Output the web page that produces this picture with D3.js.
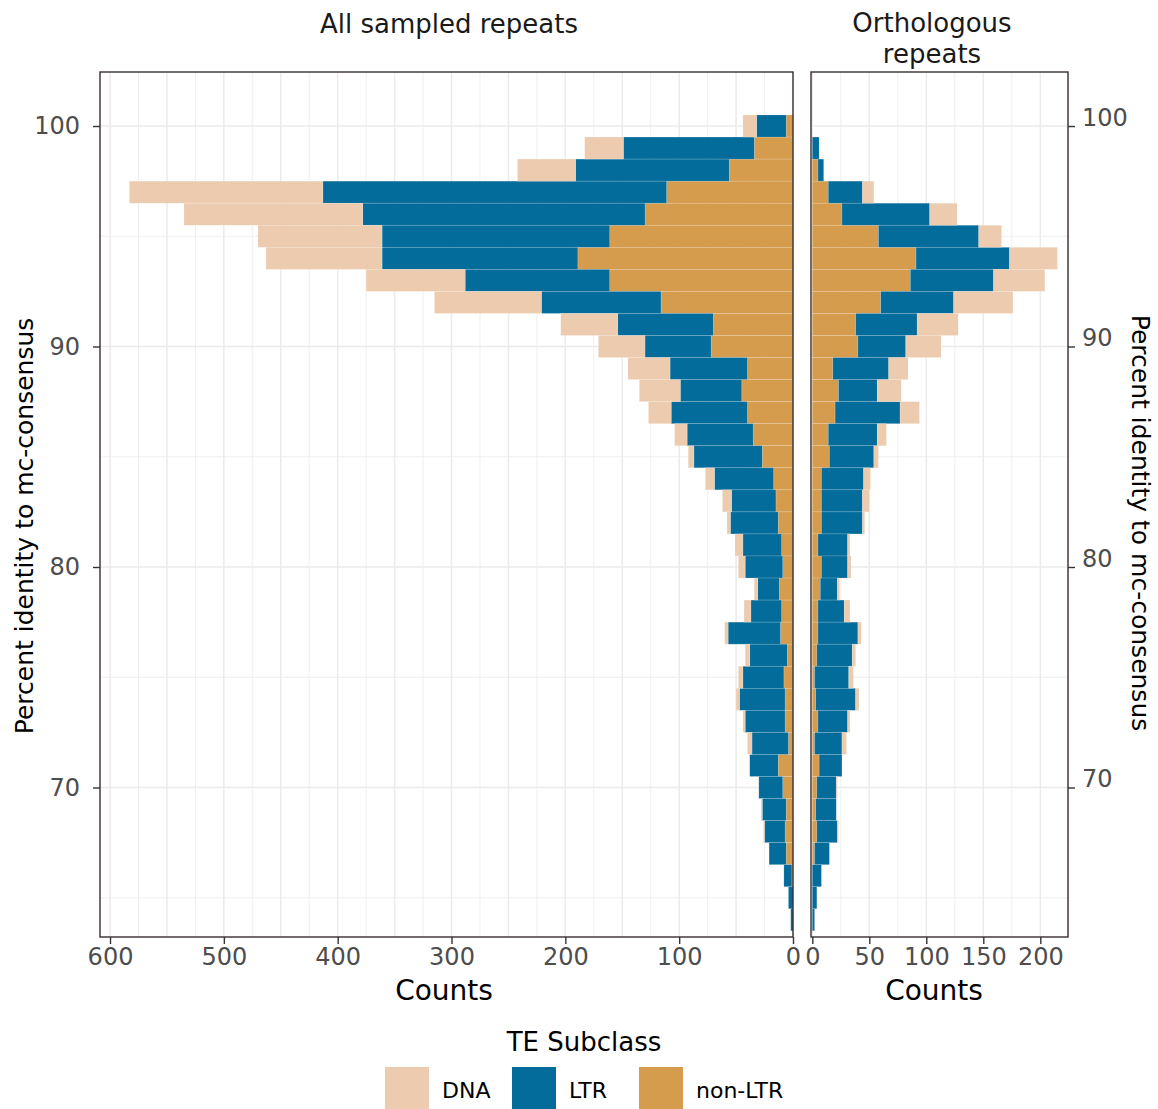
<!DOCTYPE html>
<html>
<head>
<meta charset="utf-8">
<script src="https://cdn.jsdelivr.net/npm/d3@7"></script>
<style>
  html, body { margin: 0; padding: 0; background: #ffffff; }
  svg { display: block; font-family: "DejaVu Sans", sans-serif; }
</style>
</head>
<body>
<svg id="chart" width="1158" height="1109"></svg>
<script>
// ---------------- DATA ----------------
const bins = [100,99,98,97,96,95,94,93,92,91,90,89,88,87,86,85,84,83,82,81,80,79,78,77,76,75,74,73,72,71,70,69,68,67,66,65,64];
const subclasses = ["non-LTR", "LTR", "DNA"];           // stacking order from 0 outward
const legendOrder = ["DNA", "LTR", "non-LTR"];

// All sampled repeats (counts per bin)
const allNonLTR = [6,34,56,111,130,161,189,161,116,70,72,40,45,40,35,27,17,15,13,10,9,12,10,11,5,8,7,7,4,13,9,6,7,6,1,0,0];
const allLTR    = [26,115,135,302,248,200,172,127,105,84,58,68,54,67,58,60,52,39,42,34,33,19,27,46,33,36,40,35,32,25,21,21,18,15,7,4,2];
const allDNA    = [12,34,51,170,157,109,102,87,94,50,41,37,36,20,11,5,8,8,3,7,6,3,6,3,4,4,3,2,4,0,0,1,1,0,0,0,0];

// Orthologous repeats (counts per bin)
const orthoNonLTR = [0,0,5,14,26,58,91,86,60,38,40,18,23,20,14,15,8,8,8,5,8,7,5,5,4,2,3,5,2,6,4,3,4,2,0,0,0];
const orthoLTR    = [0,6,5,30,77,88,82,73,64,54,42,49,34,57,43,39,37,36,36,26,23,15,23,35,31,30,35,26,24,20,17,18,18,13,8,4,2];
const orthoDNA    = [0,0,0,10,24,20,42,45,52,36,31,17,21,17,8,4,6,6,2,2,3,2,5,3,3,4,3,2,4,0,1,0,1,0,0,0,0];

const yTicks = [70, 80, 90, 100];
const allTicks = [600, 500, 400, 300, 200, 100, 0];
const orthoTicks = [0, 50, 100, 150, 200];

const colors = { "DNA": "#ECCBAE", "LTR": "#046C9A", "non-LTR": "#D69C4E" };

// ---------------- LAYOUT ----------------
const svg = d3.select("#chart");
const yTop = 72, yBottom = 937;
const L = { x0: 100, x1: 793 };
const R = { x0: 811, x1: 1068 };

const y = d3.scaleLinear().domain([63.22, 102.45]).range([yBottom, yTop]);
const xAll = d3.scaleLinear().domain([0, 608.8]).range([L.x1, L.x0]);
const xOrtho = d3.scaleLinear().domain([-1.14, 224.3]).range([R.x0, R.x1]);

function rows(nl, ltr, dna) {
  return bins.map((b, i) => ({ bin: b, "non-LTR": nl[i], "LTR": ltr[i], "DNA": dna[i] }));
}
const stack = d3.stack().keys(subclasses);

const gridColor = "#EBEBEB";

function panel(x, box, data, gridMajor, gridMinor) {
  const g = svg.append("g");
  g.selectAll(".hmin").data([65, 75, 85, 95]).join("line")
    .attr("x1", box.x0).attr("x2", box.x1)
    .attr("y1", d => y(d)).attr("y2", d => y(d))
    .attr("stroke", gridColor).attr("stroke-width", 0.8);
  g.selectAll(".hmaj").data(yTicks).join("line")
    .attr("x1", box.x0).attr("x2", box.x1)
    .attr("y1", d => y(d)).attr("y2", d => y(d))
    .attr("stroke", gridColor).attr("stroke-width", 1.5);
  g.selectAll(".vmin").data(gridMinor).join("line")
    .attr("x1", d => x(d)).attr("x2", d => x(d))
    .attr("y1", yTop).attr("y2", yBottom)
    .attr("stroke", gridColor).attr("stroke-width", 0.8);
  g.selectAll(".vmaj").data(gridMajor).join("line")
    .attr("x1", d => x(d)).attr("x2", d => x(d))
    .attr("y1", yTop).attr("y2", yBottom)
    .attr("stroke", gridColor).attr("stroke-width", 1.5);

  const series = stack(data);
  g.selectAll(".s").data(series).join("g")
    .attr("fill", d => colors[d.key])
    .selectAll("rect").data(d => d).join("rect")
    .attr("x", d => Math.min(x(d[0]), x(d[1])))
    .attr("width", d => Math.abs(x(d[1]) - x(d[0])))
    .attr("y", d => y(d.data.bin + 0.5))
    .attr("height", d => y(d.data.bin - 0.5) - y(d.data.bin + 0.5))
    .attr("stroke", "#ffffff").attr("stroke-opacity", 0.25).attr("stroke-width", 0.6);

  g.append("rect").attr("x", box.x0).attr("y", yTop)
    .attr("width", box.x1 - box.x0).attr("height", yBottom - yTop)
    .attr("fill", "none").attr("stroke", "#3a2e2e").attr("stroke-width", 1.4);
}

const allMajor = d3.range(0, 601, 50), allMinor = d3.range(25, 601, 50);
const orMajor = d3.range(0, 201, 50), orMinor = d3.range(25, 226, 50);
panel(xAll, L, rows(allNonLTR, allLTR, allDNA), allMajor, allMinor);
panel(xOrtho, R, rows(orthoNonLTR, orthoLTR, orthoDNA), orMajor, orMinor);

// ---------------- AXES ----------------
const tickColor = "#4D4D4D";
const tickFont = 24;

const axL = svg.append("g").attr("transform", `translate(0,${yBottom})`)
  .call(d3.axisBottom(xAll).tickValues(allTicks).tickSize(7).tickPadding(4).tickFormat(d3.format("d")));
const axR = svg.append("g").attr("transform", `translate(0,${yBottom})`)
  .call(d3.axisBottom(xOrtho).tickValues(orthoTicks).tickSize(7).tickPadding(4).tickFormat(d3.format("d")));
const ayL = svg.append("g").attr("transform", `translate(${L.x0},0)`)
  .call(d3.axisLeft(y).tickValues(yTicks).tickSize(7).tickPadding(13).tickFormat(d3.format("d")));
const ayR = svg.append("g").attr("transform", `translate(${R.x1},0)`)
  .call(d3.axisRight(y).tickValues(yTicks).tickSize(7).tickPadding(7).tickFormat(d3.format("d")));

[axL, axR, ayL, ayR].forEach(a => {
  a.select(".domain").remove();
  a.selectAll(".tick line").attr("stroke", "#333333").attr("stroke-width", 1.4);
  a.selectAll(".tick text").attr("fill", tickColor)
    .style("font-size", tickFont + "px").style("font-family", "DejaVu Sans, sans-serif");
});
// right-hand labels sit with their baseline at the tick
ayR.selectAll(".tick text").attr("dy", "-0.04em");

// ---------------- TITLES ----------------
function text(x, yy, s, size, opts = {}) {
  const t = svg.append("text").attr("x", x).attr("y", yy).text(s)
    .attr("font-size", size).attr("fill", opts.fill || "#000000")
    .attr("text-anchor", opts.anchor || "middle");
  if (opts.rotate) t.attr("transform", `rotate(${opts.rotate},${x},${yy})`);
  return t;
}
text(449, 33, "All sampled repeats", 26, { fill: "#1A1A1A" });
text(932, 32, "Orthologous", 26, { fill: "#1A1A1A" });
text(932, 63, "repeats", 26, { fill: "#1A1A1A" });

text(444, 1000, "Counts", 28);
text(934, 1000, "Counts", 28);

text(33, 526, "Percent identity to mc-consensus", 25, { rotate: -90 });
text(1132, 523, "Percent identity to mc-consensus", 25, { rotate: 90 });

// ---------------- LEGEND ----------------
text(584, 1051, "TE Subclass", 26);
const legX = { "DNA": 385, "LTR": 512, "non-LTR": 639 };
const lg = svg.append("g");
legendOrder.forEach(k => {
  lg.append("rect").attr("x", legX[k]).attr("y", 1067).attr("width", 44).attr("height", 44)
    .attr("fill", colors[k]);
  lg.append("text").attr("x", legX[k] + 57).attr("y", 1098).text(k)
    .attr("font-size", 22).attr("fill", "#000000");
});
</script>
</body>
</html>
